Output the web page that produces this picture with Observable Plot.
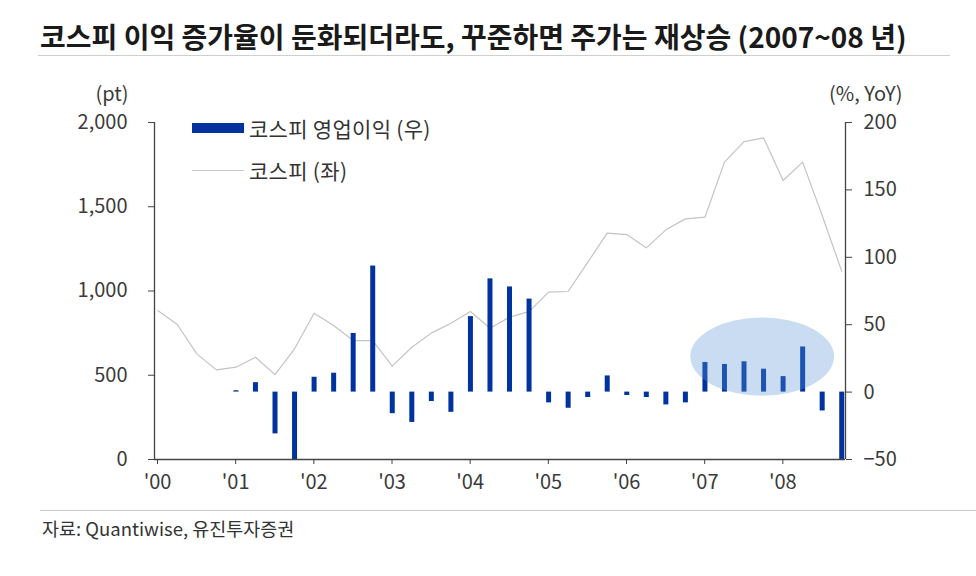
<!DOCTYPE html>
<html>
<head>
<meta charset="utf-8">
<script src="https://cdn.jsdelivr.net/npm/d3@7"></script>
<script src="https://cdn.jsdelivr.net/npm/@observablehq/plot@0.6"></script>
<style>
  body { margin: 0; background: #fff; }
  #wrap { position: relative; width: 976px; height: 576px; font-family: 'Noto Sans CJK KR', 'Noto Sans', sans-serif; color: #333; overflow: hidden; }
  .abs { position: absolute; white-space: nowrap; }
</style>
</head>
<body>
<div id="wrap">
  <div class="abs" id="title" style="left:40px;top:18px;font-size:28px;line-height:36px;font-weight:700;color:#1a1a1a;">코스피 이익 증가율이 둔화되더라도, 꾸준하면 주가는 재상승 (2007~08 년)</div>
  <div class="abs" style="left:38px;top:55px;width:912px;border-top:1.5px solid #cfcfcf;"></div>
  <div class="abs" id="chart" style="left:0;top:60px;"></div>
  <div class="abs" style="left:192px;top:123px;width:52px;height:10px;background:#0033a0;"></div>
  <div class="abs" id="leg1" style="left:249px;top:115px;font-size:21px;line-height:26px;color:#333;letter-spacing:0.3px;">코스피 영업이익 (우)</div>
  <div class="abs" style="left:192px;top:170px;width:52px;border-top:1px solid #c8c8c8;"></div>
  <div class="abs" id="leg2" style="left:249px;top:157px;font-size:21px;line-height:26px;color:#333;letter-spacing:0.3px;">코스피 (좌)</div>
  <div class="abs" style="left:40px;top:510px;width:936px;border-top:1.5px solid #c8c8c8;"></div>
  <div class="abs" id="caption" style="left:42px;top:515px;font-size:18.5px;line-height:26px;color:#333;">자료: Quantiwise, 유진투자증권</div>
</div>
<script>
// ---- data ----
const quarters = [
  "00Q1","00Q2","00Q3","00Q4","01Q1","01Q2","01Q3","01Q4",
  "02Q1","02Q2","02Q3","02Q4","03Q1","03Q2","03Q3","03Q4",
  "04Q1","04Q2","04Q3","04Q4","05Q1","05Q2","05Q3","05Q4",
  "06Q1","06Q2","06Q3","06Q4","07Q1","07Q2","07Q3","07Q4",
  "08Q1","08Q2","08Q3","08Q4"
];
// KOSPI index (pt, left axis)
const kospi = [
  884, 801, 627, 532, 548, 607, 504, 657,
  868, 795, 706, 706, 554, 666, 750, 809,
  878, 779, 845, 878, 993, 997, 1170, 1343,
  1335, 1256, 1363, 1428, 1438, 1765, 1887, 1909,
  1656, 1765, 1448, 1118
];
// KOSPI operating profit growth (% YoY, right axis), 01Q1 ~ 08Q4
const profitQuarters = quarters.slice(4);
const profitYoY = [
  1, 7, -31, -50, 11, 14, 43.5, 93.5,
  -16, -22.5, -7, -15, 56, 84, 78, 69,
  -8, -12, -4, 12, -2.5, -4, -9.5, -8,
  22, 20.5, 22.5, 17, 11.5, 33.5, -14, -50
];
const yearTicks = [2000, 2001, 2002, 2003, 2004, 2005, 2006, 2007, 2008];
const leftTicks = [0, 500, 1000, 1500, 2000];
const rightTicks = [-50, 0, 50, 100, 150, 200];
// highlighted region (2007~08): center and radii in data units
const highlight = [{x: 2007.78, y: 26, rx: 0.92, ry: 29}];

// ---- helpers ----
const qx = q => 2000 + (+q.slice(0, 2)) + (+q[3] - 1) / 4 + 1 / 24;
const leftMax = 2000, rightMin = -50, rightMax = 200;
const toRight = pt => rightMin + pt / leftMax * (rightMax - rightMin);
const fromRight = v => (v - rightMin) / (rightMax - rightMin) * leftMax;

const lineData = quarters.map((q, i) => ({x: qx(q), v: toRight(kospi[i])}));
const barData = profitQuarters.map((q, i) => ({x: qx(q), v: profitYoY[i]}));
const xDomain = [2000, 2008.84];

const ellipseMark = (index, scales) => {
  const g = d3.create("svg:g");
  for (const h of highlight) {
    const cx = scales.x(h.x), cy = scales.y(h.y);
    const rx = Math.abs(scales.x(h.x + h.rx) - cx);
    const ry = Math.abs(scales.y(h.y + h.ry) - cy);
    g.append("ellipse").attr("cx", cx).attr("cy", cy).attr("rx", rx).attr("ry", ry)
      .attr("fill", "#5b94d4").attr("fill-opacity", 0.33);
  }
  return g.node();
};

const chart = Plot.plot({
  width: 976,
  height: 440,
  marginTop: 62,
  marginBottom: 41,
  marginLeft: 154,
  marginRight: 131,
  style: {fontFamily: "'Noto Sans CJK KR', 'Noto Sans', sans-serif", fontSize: "20px", color: "#3a3a3a", background: "transparent"},
  x: {type: "linear", domain: xDomain},
  y: {domain: [rightMin, rightMax]},
  marks: [
    Plot.line(lineData, {x: "x", y: "v", stroke: "#c4c4c4", strokeWidth: 1.2}),
    Plot.ruleX(barData, {x: "x", y1: 0, y2: "v", stroke: "#0033a0", strokeWidth: 5}),
    ellipseMark,
    Plot.ruleX([xDomain[0]], {stroke: "#444", strokeWidth: 1.3}),
    Plot.ruleX([xDomain[1]], {stroke: "#444", strokeWidth: 1.3}),
    Plot.ruleY([rightMin], {stroke: "#444", strokeWidth: 1.3}),
    Plot.axisY(leftTicks.map(toRight), {anchor: "left", tickSize: 6, tickPadding: 21, fontSize: 20, tickFormat: v => d3.format(",")(Math.round(fromRight(v))), label: null, stroke: "#444"}),
    Plot.axisY(rightTicks, {anchor: "right", tickSize: 6, tickPadding: 12, fontSize: 20, label: null, stroke: "#444"}),
    Plot.axisX(yearTicks, {anchor: "bottom", tickSize: 5, tickPadding: 10, fontSize: 20, dx: 3, tickFormat: d => "'" + String(d).slice(2), label: null, stroke: "#444"}),
    Plot.text(["(pt)"], {frameAnchor: "top-left", dx: -26, dy: -36, fontSize: 20, textAnchor: "end", fill: "#3a3a3a"}),
    Plot.text(["(%, YoY)"], {frameAnchor: "top-right", dx: 57, dy: -36, fontSize: 20, textAnchor: "end", fill: "#3a3a3a"})
  ]
});
document.getElementById("chart").appendChild(chart);
</script>
</body>
</html>
